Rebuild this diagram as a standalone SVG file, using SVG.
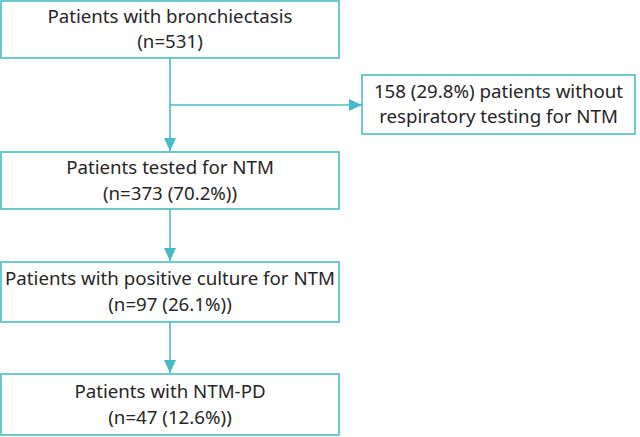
<svg xmlns="http://www.w3.org/2000/svg" width="640" height="437" viewBox="0 0 640 437">
<style>
.box{fill:#fff;stroke:#48bcc6;stroke-width:1.6}
.t{font-family:"Source Sans Pro","Noto Sans","Open Sans",sans-serif;font-size:18.7px;fill:#262626;text-anchor:middle}
.c{stroke:#48bcc6;stroke-width:1.6;fill:none}
</style>
<defs>
<marker id="ah" viewBox="0 0 13 12" refX="13" refY="6" markerWidth="13" markerHeight="12" markerUnits="userSpaceOnUse" orient="auto">
<path d="M0,0 L13,6 L0,12 Z" fill="#48bcc6"/>
</marker>
</defs>
<rect width="640" height="437" fill="#fff"/>
<g id="connectors">
<path class="c" d="M170,58 V151" marker-end="url(#ah)"/>
<path class="c" d="M170,105 H362" marker-end="url(#ah)"/>
<path class="c" d="M170,209 V261" marker-end="url(#ah)"/>
<path class="c" d="M170,322 V373" marker-end="url(#ah)"/>
</g>
<g id="n1">
<rect class="box" x="1" y="1" width="338" height="57"/>
<text class="t" x="170" y="23">Patients with bronchiectasis</text>
<text class="t" x="170" y="48">(n=531)</text>
</g>
<g id="n2">
<rect class="box" x="362" y="75" width="273" height="59"/>
<text class="t" x="498.5" y="98">158 (29.8%) patients without</text>
<text class="t" x="498.5" y="123">respiratory testing for NTM</text>
</g>
<g id="n3">
<rect class="box" x="1" y="152" width="338" height="57"/>
<text class="t" x="170" y="174">Patients tested for NTM</text>
<text class="t" x="170" y="200">(n=373 (70.2%))</text>
</g>
<g id="n4">
<rect class="box" x="1" y="262" width="338" height="60"/>
<text class="t" x="170" y="285">Patients with positive culture for NTM</text>
<text class="t" x="170" y="311">(n=97 (26.1%))</text>
</g>
<g id="n5">
<rect class="box" x="1" y="374" width="338" height="61"/>
<text class="t" x="170" y="398">Patients with NTM-PD</text>
<text class="t" x="170" y="424">(n=47 (12.6%))</text>
</g>
</svg>
